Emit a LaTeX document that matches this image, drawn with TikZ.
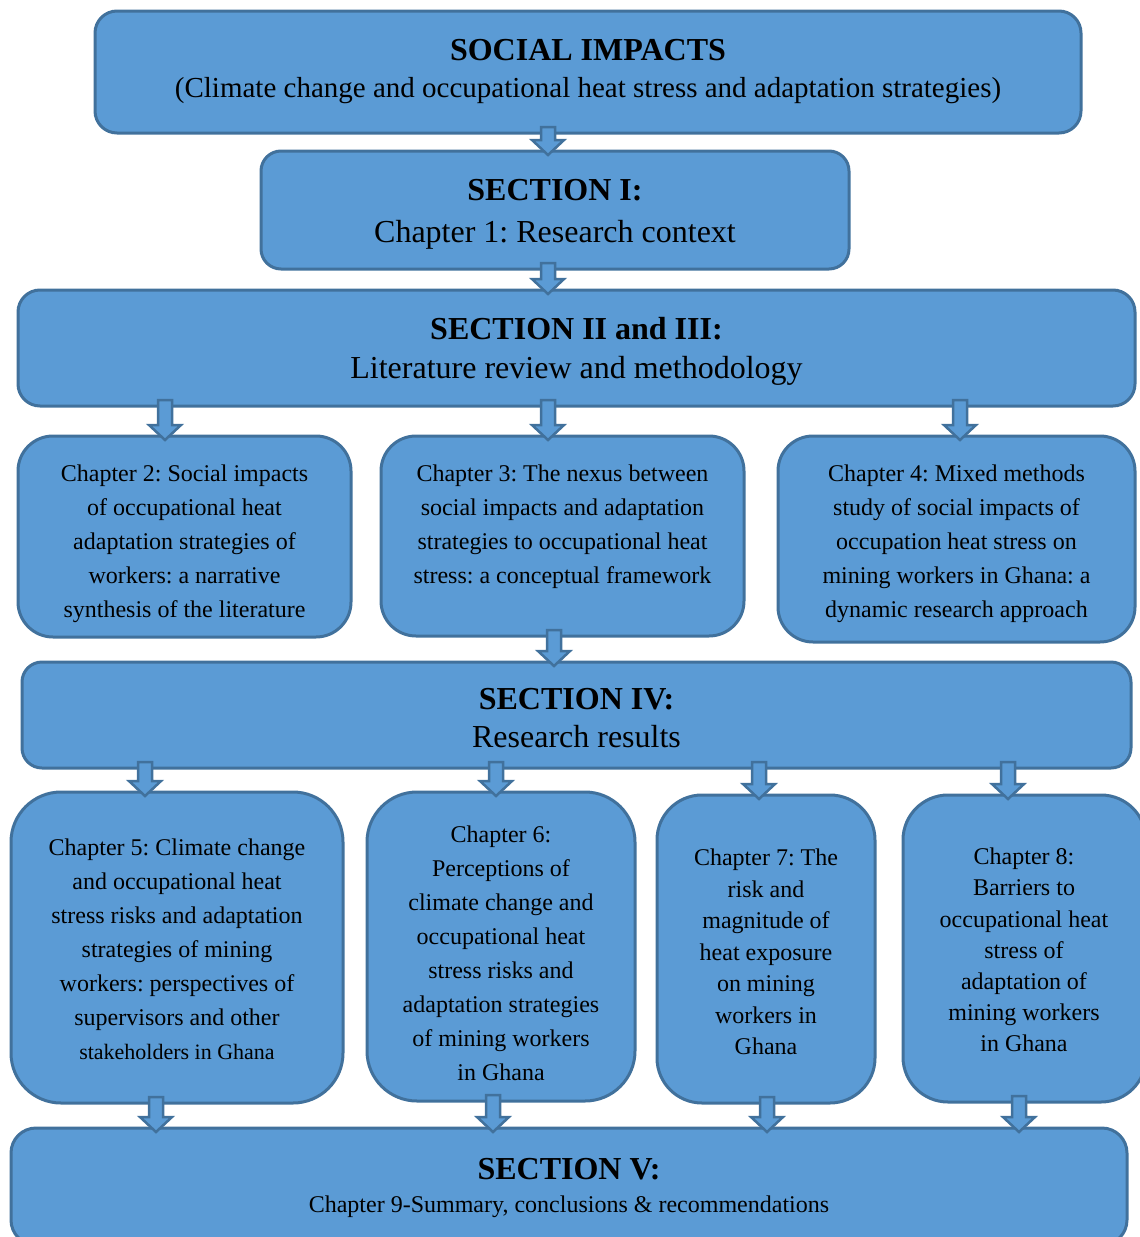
\documentclass[tikz,border=0pt]{standalone}
\usepackage{fontspec}
\setmainfont{Liberation Serif}
\usetikzlibrary{calc}
\frenchspacing
\definecolor{boxblue}{HTML}{5B9BD5}
\definecolor{boxline}{HTML}{41719C}
\tikzset{
  box/.style={draw=boxline, fill=boxblue, line width=3pt, inner sep=0pt, outer sep=0pt},
  arrsty/.style={draw=boxline, fill=boxblue, line width=2.5pt, line join=miter},
  txt/.style={align=center, inner sep=0pt, font=\fontsize{24}{34}\selectfont},
  ttl/.style={anchor=base, inner sep=0pt, font=\fontsize{32}{38}\selectfont\bfseries},
  sub/.style={anchor=base, inner sep=0pt, font=\fontsize{32}{38}\selectfont},
}
% name, x1, y1, x2, y2, radius
\newcommand\bx[6]{\node[box, rounded corners=#6, minimum width={#4-#2}, minimum height={#5-#3}] (#1) at ({(#2+#4)/2},{(#3+#5)/2}) {};}
% block arrow: x, from node, to node
\newcommand\barr[3]{\path[arrsty] let \p1=(#2.south), \p2=(#3.north) in
  (#1pt-7pt,\y1+6pt) -- (#1pt+7pt,\y1+6pt) -- (#1pt+7pt,\y2+11pt) -- (#1pt+16pt,\y2+11pt)
  -- (#1pt,\y2-4pt) -- (#1pt-16pt,\y2+11pt) -- (#1pt-7pt,\y2+11pt) -- cycle;}
\begin{document}
\begin{tikzpicture}[x=1pt,y=-1pt]
\useasboundingbox (0,0) rectangle (1140,1237);
% boxes
\bx{soc}{95}{11}{1081}{133}{22}
\bx{s1}{261}{151}{849}{269}{20}
\bx{s23}{18}{290}{1135}{406}{22}
\bx{ch2}{18}{436}{351}{637}{35}
\bx{ch3}{381}{436}{744}{636}{35}
\bx{ch4}{778}{436}{1135}{642}{35}
\bx{s4}{22}{662}{1131}{768}{20}
\bx{ch5}{11}{792}{343}{1103}{50}
\bx{ch6}{367}{792}{635}{1101}{50}
\bx{ch7}{657}{795}{875}{1103}{45}
\bx{ch8}{903}{795}{1146}{1102}{45}
\bx{s5}{11}{1128}{1127}{1245}{25}
% arrows
\barr{548}{soc}{s1}
\barr{548}{s1}{s23}
\barr{165}{s23}{ch2}
\barr{548}{s23}{ch3}
\barr{960}{s23}{ch4}
\barr{554}{ch3}{s4}
\barr{145}{s4}{ch5}
\barr{496}{s4}{ch6}
\barr{759}{s4}{ch7}
\barr{1008}{s4}{ch8}
\barr{156}{ch5}{s5}
\barr{493}{ch6}{s5}
\barr{767}{ch7}{s5}
\barr{1019}{ch8}{s5}
% texts
\node[ttl] (tsoc) at (588,60) {SOCIAL IMPACTS};
\node[sub, font=\fontsize{29}{34}\selectfont] (tsocb) at (588,97) {(Climate change and occupational heat stress and adaptation strategies)};
\node[ttl] (ts1) at (555,200) {SECTION I:};
\node[sub] (ts1b) at (555,242) {Chapter 1: Research context};
\node[ttl] (ts23) at (576.5,339) {SECTION II and III:};
\node[sub] (ts23b) at (576.5,378) {Literature review and methodology};
\node[txt] (tch2) at (184.5,543.5) {Chapter 2: Social impacts\\ of occupational heat\\ adaptation strategies of\\ workers: a narrative\\ synthesis of the literature};
\node[txt] (tch3) at (562.5,526.5) {Chapter 3: The nexus between\\ social impacts and adaptation\\ strategies to occupational heat\\ stress: a conceptual framework};
\node[txt] (tch4) at (956.5,543.5) {Chapter 4: Mixed methods\\ study of social impacts of\\ occupation heat stress on\\ mining workers in Ghana: a\\ dynamic research approach};
\node[ttl] (ts4) at (576.5,709) {SECTION IV:};
\node[sub] (ts4b) at (576.5,747) {Research results};
\node[txt] (tch5) at (177,949.5) {Chapter 5: Climate change\\ and occupational heat\\ stress risks and adaptation\\ strategies of mining\\ workers: perspectives of\\ supervisors and other\\ {\fontsize{22}{34}\selectfont stakeholders in Ghana}};
\node[txt] (tch6) at (501,953.5) {Chapter 6:\\ Perceptions of\\ climate change and\\ occupational heat\\ stress risks and\\ adaptation strategies\\ of mining workers\\ in Ghana};
\node[txt, font=\fontsize{24}{31.5}\selectfont] (tch7) at (766,952) {Chapter 7: The\\ risk and\\ magnitude of\\ heat exposure\\ on mining\\ workers in\\ Ghana};
\node[txt, font=\fontsize{24}{31.2}\selectfont] (tch8) at (1024,950) {Chapter 8:\\ Barriers to\\ occupational heat\\ stress of\\ adaptation of\\ mining workers\\ in Ghana};
\node[ttl] (ts5) at (569,1179) {SECTION V:};
\node[sub, font=\fontsize{24}{30}\selectfont] (ts5b) at (569,1212) {Chapter 9-Summary, conclusions \& recommendations};
\end{tikzpicture}
\end{document}
